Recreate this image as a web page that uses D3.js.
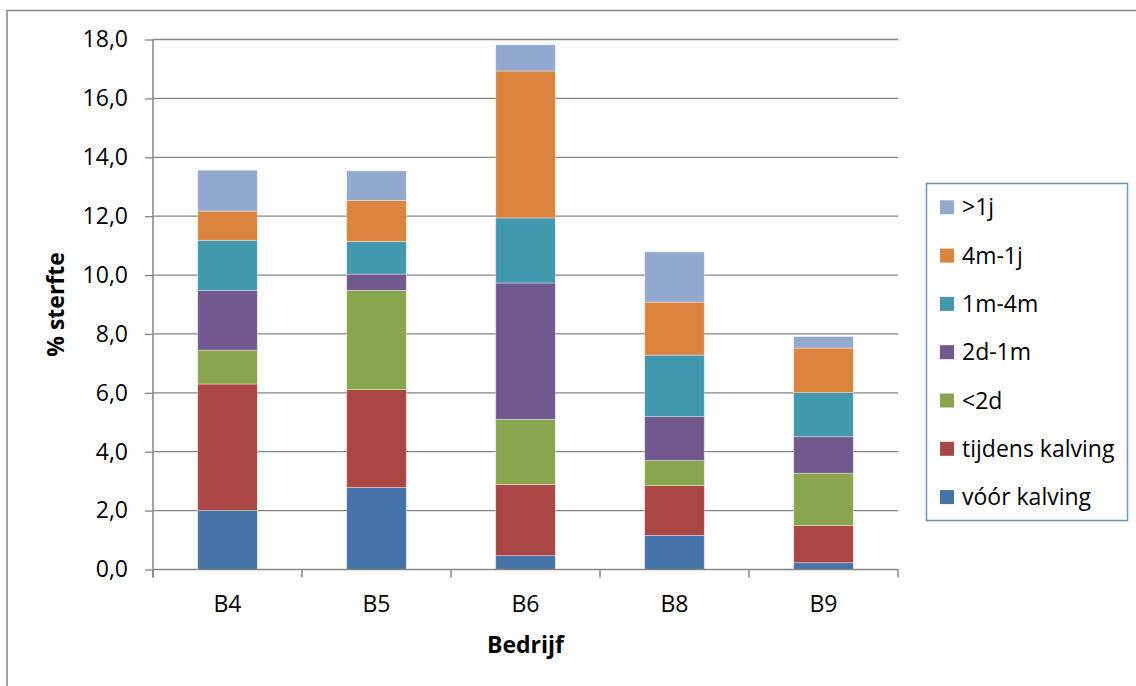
<!DOCTYPE html>
<html><head><meta charset="utf-8">
<script src="https://cdn.jsdelivr.net/npm/d3@7"></script>
<style>html,body{margin:0;padding:0;background:#fff;}svg{display:block;font-family:"Open Sans",Lato,sans-serif;}</style>
</head><body>
<svg id="c" width="1136" height="686"></svg>
<script>
const categories = ["B4", "B5", "B6", "B8", "B9"];
const seriesNames = ["vóór kalving", "tijdens kalving", "<2d", "2d-1m", "1m-4m", "4m-1j", ">1j"];
const voorKalving   = [2.01, 2.79, 0.47, 1.16, 0.23];
const tijdensKalving= [4.29, 3.32, 2.42, 1.69, 1.26];
const lt2d          = [1.15, 3.37, 2.21, 0.85, 1.78];
const d2m1          = [2.03, 0.55, 4.63, 1.49, 1.24];
const m1m4          = [1.70, 1.11, 2.21, 2.09, 1.50];
const m4j1          = [0.99, 1.39, 4.99, 1.80, 1.51];
const gt1j          = [1.39, 1.01, 0.89, 1.71, 0.39];
const yTicks = [0, 2, 4, 6, 8, 10, 12, 14, 16, 18];
const colors = ["#4572A7", "#AA4643", "#89A54E", "#71588F", "#4198AF", "#DB843D", "#93A9CF"];

(function () {
const seriesValues = [voorKalving, tijdensKalving, lt2d, d2m1, m1m4, m4j1, gt1j];
const table = categories.map((c, i) => {
  const row = {cat: c};
  seriesNames.forEach((s, j) => row[s] = seriesValues[j][i]);
  return row;
});

const svg = d3.select("#c");
const pL = 153, pR = 898, pT = 39.5, pB = 569.5;
const fs = "23px";
const x = d3.scaleBand().domain(categories).range([pL, pR]).paddingInner(0.6).paddingOuter(0.3);
const y = d3.scaleLinear().domain([0, 18]).range([pB, pT]);
const grey = "#868686";

// outer border
svg.append("rect").attr("x", 7).attr("y", 10.5).attr("width", 1140).attr("height", 690)
  .attr("fill", "none").attr("stroke", grey).attr("stroke-width", 1.5);

// gridlines
svg.append("g").selectAll("line").data(yTicks.filter(d => d > 0)).join("line")
  .attr("x1", pL).attr("x2", pR).attr("y1", d => y(d)).attr("y2", d => y(d))
  .attr("stroke", grey).attr("stroke-width", 1.3);

// bars
const stack = d3.stack().keys(seriesNames)(table);
svg.append("g").selectAll("g").data(stack).join("g")
  .attr("fill", (d, i) => colors[i])
  .selectAll("rect").data(d => d).join("rect")
  .attr("x", d => x(d.data.cat)).attr("width", x.bandwidth())
  .attr("y", d => y(d[1])).attr("height", d => y(d[0]) - y(d[1]))
  .attr("stroke", "rgba(255,255,255,0.45)").attr("stroke-width", 0.8);

// y axis
const yAxis = d3.axisLeft(y).tickValues(yTicks).tickSize(8).tickPadding(17)
  .tickFormat(d => d3.format(".1f")(d).replace(".", ","));
const ga = svg.append("g").attr("transform", `translate(${pL},0)`).call(yAxis);
ga.select(".domain").attr("stroke", grey).attr("stroke-width", 1.5).attr("d", `M0,${pT}V${pB + 8}`);
ga.selectAll(".tick line").attr("stroke", grey).attr("stroke-width", 1.3);
ga.selectAll(".tick text").attr("fill", "#000").style("font-size", fs).style("font-family", "'Open Sans', sans-serif");

// x axis
const xb = d3.scaleLinear().domain([0, categories.length]).range([pL, pR]);
const gx = svg.append("g");
gx.append("line").attr("x1", pL).attr("x2", pR).attr("y1", pB).attr("y2", pB)
  .attr("stroke", grey).attr("stroke-width", 1.5);
gx.selectAll("line.t").data(d3.range(categories.length + 1)).join("line").attr("class", "t")
  .attr("x1", d => xb(d)).attr("x2", d => xb(d)).attr("y1", pB).attr("y2", pB + 8)
  .attr("stroke", grey).attr("stroke-width", 1.5);
gx.selectAll("text").data(categories).join("text")
  .attr("x", d => x(d) + x.bandwidth() / 2).attr("y", 612)
  .attr("text-anchor", "middle").style("font-size", fs).text(d => d);

// axis titles
svg.append("text").attr("x", (pL + pR) / 2).attr("y", 653).attr("text-anchor", "middle")
  .style("font-size", fs).style("font-weight", "bold").text("Bedrijf");
svg.append("text").attr("transform", `translate(64,${(pT + pB) / 2}) rotate(-90)`)
  .attr("text-anchor", "middle").style("font-size", fs).style("font-weight", "bold").text("% sterfte");

// legend
const lg = svg.append("g");
lg.append("rect").attr("x", 926.5).attr("y", 183.5).attr("width", 201).attr("height", 337)
  .attr("fill", "#fff").attr("stroke", "#6E94C8").attr("stroke-width", 1.5);
const legendItems = seriesNames.map((s, i) => ({name: s, color: colors[i]})).reverse();
const li = lg.selectAll("g").data(legendItems).join("g")
  .attr("transform", (d, i) => `translate(940,${207.3 + i * 48.3})`);
li.append("rect").attr("x", 0).attr("y", -7).attr("width", 14).attr("height", 14).attr("fill", d => d.color);
li.append("text").attr("x", 22).attr("y", 8).style("font-size", fs).text(d => d.name);
})();
</script>
</body></html>
